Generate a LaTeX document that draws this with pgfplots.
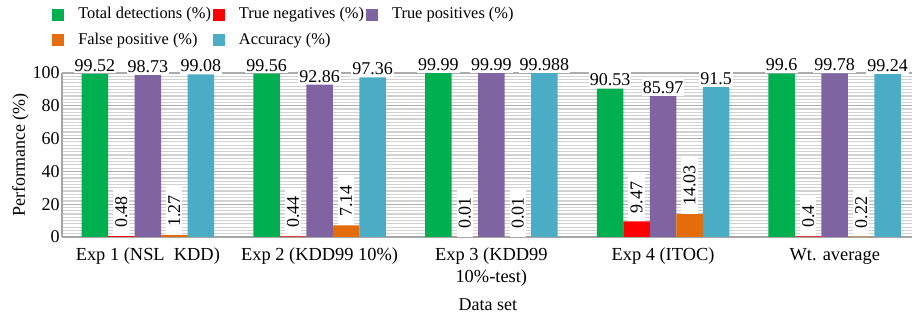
\documentclass[border=0pt]{standalone}
\usepackage{fontspec}
\setmainfont{Liberation Serif}
\usepackage{pgfplots}
\pgfplotsset{compat=1.18}
\definecolor{cgreen}{HTML}{00B050}
\definecolor{cred}{HTML}{FF0000}
\definecolor{cpurple}{HTML}{8064A2}
\definecolor{corange}{HTML}{E46C0A}
\definecolor{cblue}{HTML}{4BACC6}
\begin{document}
\begin{tikzpicture}[font=\fontsize{9}{10.5}\selectfont]
\begin{axis}[
  scale only axis, width=425pt, height=82pt,
  xmin=-0.5, xmax=4.45, ymin=0, ymax=100,
  ybar=0pt, bar width=13.25pt,
  xtick={0,1,2,3,4},
  xticklabels={{\raisebox{-2pt}{Exp 1 (NSL\ \ KDD)}},{\raisebox{-2pt}{Exp 2 (KDD99 10\%)}},{Exp 3 (KDD99\\10\%-test)},{Exp 4 (ITOC)},{\raisebox{-3pt}{Wt. average}}},
  xticklabel style={align=center, anchor=north, yshift=-2pt, font=\fontsize{9.2}{10.6}\selectfont},
  ytick={0,20,40,60,80,100}, minor y tick num=9,
  yticklabel style={inner xsep=1pt},
  /pgf/number format/assume math mode=true,
  ymajorgrids, yminorgrids,
  major grid style={draw=gray!65, line width=0.6pt},
  minor grid style={draw=gray!35, line width=0.6pt},
  axis x line*=bottom, axis y line*=left,
  axis line style={draw=gray!70, line width=0.8pt, -},
  major tick length=0pt, minor tick length=0pt,
  ylabel={Performance (\%)},
  ylabel style={at={(axis description cs:-0.0488,0.5)}, anchor=center},
  xlabel={Data set},
  xlabel style={at={(axis description cs:0.501,-0.4116)}, anchor=center},
  clip=false,
  point meta=explicit symbolic,
  nodes near coords,
  every node near coord/.append style={font=\fontsize{9}{10.5}\selectfont, fill=white, inner xsep=0.5pt, inner ysep=1pt},
  legend columns=3,
  legend cell align=left,
  legend style={draw=none, fill=none, at={(-0.019,1.45)}, anchor=north west,
    font=\fontsize{8.2}{9.6}\selectfont,
    nodes={inner xsep=1pt},
    /tikz/every odd column/.append style={column sep=6pt},
    /tikz/every even column/.append style={column sep=0pt},
    row sep=1.5pt},
  legend image code/.code={\fill[#1] (0pt,-3pt) rectangle (6pt,3pt);},
]
\addplot[fill=cgreen, draw=none] coordinates {(0,99.52)[99.52] (1,99.56)[99.56] (2,99.99)[99.99] (3,90.53)[90.53] (4,99.6)[99.6]};
\addplot[fill=cred, draw=none, nodes near coords style={rotate=90, anchor=west, inner xsep=4pt}] coordinates {(0,0.48)[0.48] (1,0.44)[0.44] (2,0.01)[0.01] (3,9.47)[9.47] (4,0.4)[0.4]};
\addplot[fill=cpurple, draw=none] coordinates {(0,98.73)[98.73] (1,92.86)[92.86] (2,99.99)[99.99] (3,85.97)[85.97] (4,99.78)[99.78]};
\addplot[fill=corange, draw=none, nodes near coords style={rotate=90, anchor=west, inner xsep=4pt}] coordinates {(0,1.27)[1.27] (1,7.14)[7.14] (2,0.01)[0.01] (3,14.03)[14.03] (4,0.22)[0.22]};
\addplot[fill=cblue, draw=none] coordinates {(0,99.08)[99.08] (1,97.36)[97.36] (2,99.988)[99.988] (3,91.5)[91.5] (4,99.24)[99.24]};
\legend{Total detections (\%),True negatives (\%),True positives (\%),False positive (\%),Accuracy (\%)}
\coordinate (bl) at (rel axis cs:0,0);
\coordinate (tr) at (rel axis cs:1,1);
\end{axis}
\pgfresetboundingbox
\path ([xshift=-31pt,yshift=-38.5pt]bl) rectangle ([yshift=36.5pt]tr);
\end{tikzpicture}
\end{document}
